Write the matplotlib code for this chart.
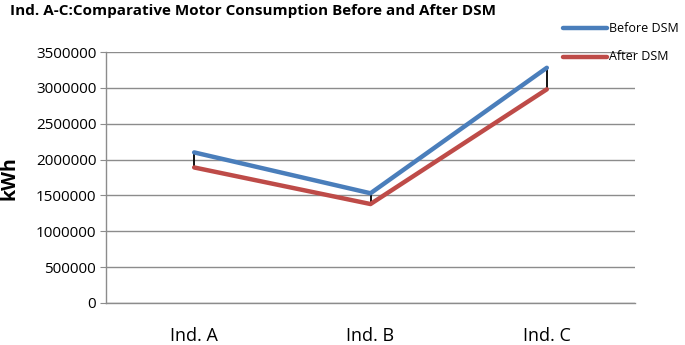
#!/usr/bin/env python3
"""
Ind. A-C: comparative motor consumption before and after DSM
"""

import matplotlib
matplotlib.use("Agg")
import matplotlib.pyplot as plt
from matplotlib.lines import Line2D

# Data (kWh)
industries = ["Ind. A", "Ind. B", "Ind. C"]
before_dsm = [2100000, 1530000, 3280000]
after_dsm = [1890000, 1380000, 2980000]
y_ticks = [0, 500000, 1000000, 1500000, 2000000, 2500000, 3000000, 3500000]

BLUE = "#4A7EBB"
RED = "#BE4B48"
GRID = "#8C8C8C"

plt.rcParams["font.family"] = ["Open Sans", "DejaVu Sans"]

fig = plt.figure(figsize=(6.85, 3.45), dpi=100)
ax = fig.add_axes([106 / 685, 1 - 303 / 345, (635 - 106) / 685, (303 - 52) / 345])

x = list(range(len(industries)))

# High-low lines between the two series
ax.vlines(x, after_dsm, before_dsm, color="black", linewidth=1.3, zorder=3)

ax.plot(x, before_dsm, color=BLUE, linewidth=3.2, solid_capstyle="round", zorder=4)
ax.plot(x, after_dsm, color=RED, linewidth=3.2, solid_capstyle="round", zorder=4)

ax.set_xlim(-0.5, len(industries) - 0.5)
ax.set_ylim(0, 3500000)
ax.set_yticks(y_ticks)
ax.set_yticklabels([str(v) for v in y_ticks], fontsize=11)
ax.set_xticks(x)
ax.set_xticklabels(industries, fontsize=13)

ax.yaxis.grid(True, color=GRID, linewidth=1.0)
ax.set_axisbelow(True)
for side in ["top", "right"]:
    ax.spines[side].set_visible(False)
for side in ["left", "bottom"]:
    ax.spines[side].set_color(GRID)
    ax.spines[side].set_linewidth(1.0)
ax.tick_params(axis="y", length=4, color=GRID, pad=3)
ax.tick_params(axis="x", length=0, pad=17)

fig.text(10 / 685, 1 - 178 / 345, "kWh", fontsize=14, fontweight="bold",
         rotation=90, va="center", ha="center")

fig.text(10 / 685, 1 - 11 / 345, "Ind. A-C:Comparative Motor Consumption Before and After DSM",
         fontsize=11, fontweight="bold", va="center", ha="left")

# Legend drawn in figure coordinates, to the right of the plot
for label, color, ypix in [("Before DSM", BLUE, 28), ("After DSM", RED, 57)]:
    yf = 1 - ypix / 345
    fig.add_artist(Line2D([563 / 685, 607 / 685], [yf, yf], color=color, linewidth=3.2,
                          solid_capstyle="round", transform=fig.transFigure))
    fig.text(609 / 685, yf, label, fontsize=9, va="center", ha="left")

plt.savefig("out.png", dpi=100)
plt.close()
print("Saved: out.png")
